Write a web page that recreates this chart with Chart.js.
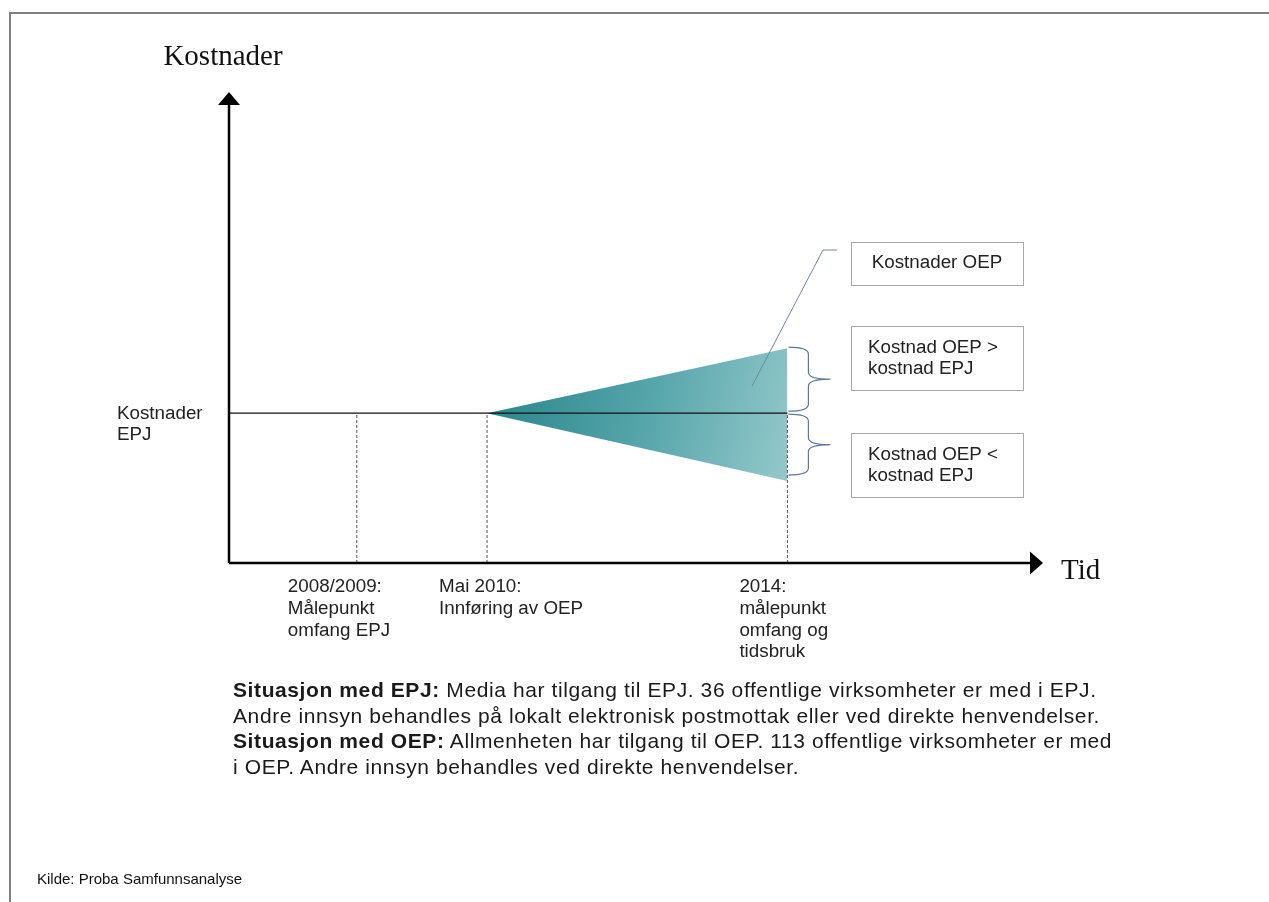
<!DOCTYPE html>
<html lang="no">
<head>
<meta charset="utf-8">
<title>Kostnader EPJ og OEP</title>
<script src="https://cdn.jsdelivr.net/npm/chart.js@4.4.1/dist/chart.umd.min.js"></script>
<style>
  body { margin: 0; background: #fff; }
  #ramme { position: relative; width: 1269px; height: 902px; }
  #diagram { position: absolute; left: 0; top: 0; }
  #tekst { position: absolute; left: 233px; top: 677px; font: 21px "Liberation Sans", Arial, sans-serif; letter-spacing: 0.6px; line-height: 25.7px; color: #1a1a1a; white-space: nowrap; }
  #kilde { position: absolute; left: 37px; top: 870px; font: 15px "Liberation Sans", Arial, sans-serif; color: #111; }
</style>
</head>
<body>
<div id="ramme">
  <canvas id="diagram" width="1269" height="902"></canvas>
  <div id="tekst">
    <b>Situasjon med EPJ:</b> Media har tilgang til EPJ. 36 offentlige virksomheter er med i EPJ.<br>
    Andre innsyn behandles på lokalt elektronisk postmottak eller ved direkte henvendelser.<br>
    <b>Situasjon med OEP:</b> Allmenheten har tilgang til OEP. 113 offentlige virksomheter er med<br>
    i OEP. Andre innsyn behandles ved direkte henvendelser.
  </div>
  <div id="kilde">Kilde: Proba Samfunnsanalyse</div>
</div>
<script>
// Tidspunkter langs x-aksen (skala 0-10) og nivaer paa y-aksen (skala 0-10)
const tidspunkt = [1.57, 3.17, 6.86];
const tidEtiketter = [
  ["2008/2009:", "Målepunkt", "omfang EPJ"],
  ["Mai 2010:", "Innføring av OEP"],
  ["2014:", "målepunkt", "omfang og", "tidsbruk"]
];
const nivaaEPJ = 3.18;
const oepStart = 3.17;
const oepSlutt = 6.86;
const oepHoy = 4.56;
const oepLav = 1.74;
const yEtikett = ["Kostnader", "EPJ"];
const boksTekster = [["Kostnader OEP"], ["Kostnad OEP >", "kostnad EPJ"], ["Kostnad OEP <", "kostnad EPJ"]];

const sansFont = '18.8px "Liberation Sans", Arial, sans-serif';
const serifFont = '29px "Liberation Serif", "Times New Roman", serif';

// Gradient for trekanten (OEP-kostnader)
function oepGradient(context) {
  const chart = context.chart;
  if (!chart.chartArea) return "#5aa6ab";
  const xs = chart.scales.x;
  const ys = chart.scales.y;
  const g = chart.ctx.createLinearGradient(
    xs.getPixelForValue(oepStart), ys.getPixelForValue(nivaaEPJ),
    xs.getPixelForValue(oepSlutt), ys.getPixelForValue(oepLav)
  );
  g.addColorStop(0, "#2a868c");
  g.addColorStop(0.5, "#55a5aa");
  g.addColorStop(1, "#94c8cb");
  return g;
}

function tegnKrollParentes(ctx, x, yTopp, yBunn) {
  const xv = x + 20;
  const xs = x + 42;
  const ym = (yTopp + yBunn) / 2;
  ctx.beginPath();
  ctx.moveTo(x, yTopp);
  ctx.quadraticCurveTo(xv, yTopp, xv, yTopp + 7);
  ctx.lineTo(xv, ym - 7);
  ctx.quadraticCurveTo(xv, ym, xs, ym);
  ctx.quadraticCurveTo(xv, ym, xv, ym + 7);
  ctx.lineTo(xv, yBunn - 7);
  ctx.quadraticCurveTo(xv, yBunn, x, yBunn);
  ctx.stroke();
}

const figurPlugin = {
  id: "figur",
  beforeDraw(chart) {
    const ctx = chart.ctx;
    ctx.save();
    ctx.fillStyle = "#fff";
    ctx.fillRect(0, 0, chart.width, chart.height);
    // ramme
    ctx.strokeStyle = "#808080";
    ctx.lineWidth = 2;
    ctx.beginPath();
    ctx.moveTo(10, 902);
    ctx.lineTo(10, 13);
    ctx.lineTo(1269, 13);
    ctx.stroke();
    ctx.restore();
  },
  afterDatasetsDraw(chart) {
    const ctx = chart.ctx;
    const xs = chart.scales.x;
    const ys = chart.scales.y;
    const x0 = xs.getPixelForValue(0);
    const y0 = ys.getPixelForValue(0);
    const yTopp = ys.getPixelForValue(10);
    const xHoyre = xs.getPixelForValue(10);
    ctx.save();

    // akser med piler
    ctx.strokeStyle = "#000";
    ctx.fillStyle = "#000";
    ctx.lineWidth = 2.5;
    ctx.beginPath();
    ctx.moveTo(x0, y0);
    ctx.lineTo(x0, yTopp + 12);
    ctx.moveTo(x0, y0);
    ctx.lineTo(xHoyre - 12, y0);
    ctx.stroke();
    ctx.beginPath();
    ctx.moveTo(x0, yTopp);
    ctx.lineTo(x0 - 11, yTopp + 13);
    ctx.lineTo(x0 + 11, yTopp + 13);
    ctx.closePath();
    ctx.fill();
    ctx.beginPath();
    ctx.moveTo(xHoyre, y0);
    ctx.lineTo(xHoyre - 13, y0 - 11.5);
    ctx.lineTo(xHoyre - 13, y0 + 11.5);
    ctx.closePath();
    ctx.fill();

    // aksetitler
    ctx.font = serifFont;
    ctx.fillStyle = "#111";
    ctx.textBaseline = "alphabetic";
    ctx.textAlign = "center";
    ctx.fillText("Kostnader", x0 - 6, 65);
    ctx.textAlign = "left";
    ctx.fillText("Tid", xHoyre + 18, y0 + 16);

    // etikett paa y-aksen
    ctx.font = sansFont;
    ctx.fillStyle = "#222";
    ctx.textBaseline = "middle";
    const yEpj = ys.getPixelForValue(nivaaEPJ);
    yEtikett.forEach((linje, i) => ctx.fillText(linje, 117, yEpj + 1 + i * 21));

    // etiketter under x-aksen
    const forskyv = [-69, -48, -48];
    tidEtiketter.forEach((linjer, j) => {
      const xp = xs.getPixelForValue(tidspunkt[j]) + forskyv[j];
      linjer.forEach((linje, i) => ctx.fillText(linje, xp, y0 + 24 + i * 21.7));
    });

    // krollparenteser
    const xKant = xs.getPixelForValue(oepSlutt) + 1;
    ctx.strokeStyle = "#5d77a0";
    ctx.lineWidth = 1.2;
    tegnKrollParentes(ctx, xKant, ys.getPixelForValue(oepHoy) - 1, yEpj - 2);
    tegnKrollParentes(ctx, xKant, yEpj + 1, ys.getPixelForValue(oepLav) - 6);

    // pekelinje til "Kostnader OEP"
    ctx.strokeStyle = "#7088a8";
    ctx.lineWidth = 1;
    ctx.beginPath();
    ctx.moveTo(752, 386);
    ctx.lineTo(823, 250);
    ctx.lineTo(837, 250);
    ctx.stroke();

    // tekstbokser
    const bokser = [
      { y: 242, h: 43, linjer: [263] },
      { y: 326, h: 64, linjer: [348, 369] },
      { y: 433, h: 64, linjer: [455, 476] }
    ];
    ctx.strokeStyle = "#a8a8a8";
    ctx.lineWidth = 1;
    bokser.forEach((b, i) => {
      ctx.strokeRect(851.5, b.y + 0.5, 172, b.h);
      ctx.fillStyle = "#222";
      boksTekster[i].forEach((linje, k) => {
        if (i === 0) {
          ctx.textAlign = "center";
          ctx.fillText(linje, 937, b.linjer[k]);
        } else {
          ctx.textAlign = "left";
          ctx.fillText(linje, 868, b.linjer[k]);
        }
      });
    });
    ctx.restore();
  }
};

const datasett = [
  {
    // horisontal linje for EPJ-kostnader
    data: [{ x: 0, y: nivaaEPJ }, { x: oepSlutt, y: nivaaEPJ }],
    borderColor: "#111",
    borderWidth: 1.3,
    pointRadius: 0,
    fill: false
  },
  ...tidspunkt.map((t) => ({
    data: [{ x: t, y: 0 }, { x: t, y: nivaaEPJ }],
    borderColor: "#555",
    borderWidth: 1,
    borderDash: [3, 2],
    pointRadius: 0,
    fill: false
  })),
  {
    // ovre kant av trekanten
    data: [{ x: oepStart, y: nivaaEPJ }, { x: oepSlutt, y: oepHoy }],
    borderWidth: 0,
    borderColor: "rgba(0,0,0,0)",
    pointRadius: 0,
    fill: false
  },
  {
    // nedre kant, fylt mot ovre kant
    data: [{ x: oepStart, y: nivaaEPJ }, { x: oepSlutt, y: oepLav }],
    borderWidth: 0,
    borderColor: "rgba(0,0,0,0)",
    pointRadius: 0,
    fill: "-1",
    backgroundColor: oepGradient
  }
];

new Chart(document.getElementById("diagram").getContext("2d"), {
  type: "line",
  data: { datasets: datasett },
  options: {
    responsive: false,
    animation: false,
    layout: { padding: { left: 229, right: 226, top: 92, bottom: 339 } },
    scales: {
      x: { type: "linear", min: 0, max: 10, display: false },
      y: { type: "linear", min: 0, max: 10, display: false }
    },
    plugins: {
      legend: { display: false },
      tooltip: { enabled: false }
    }
  },
  plugins: [figurPlugin]
});
</script>
</body>
</html>
